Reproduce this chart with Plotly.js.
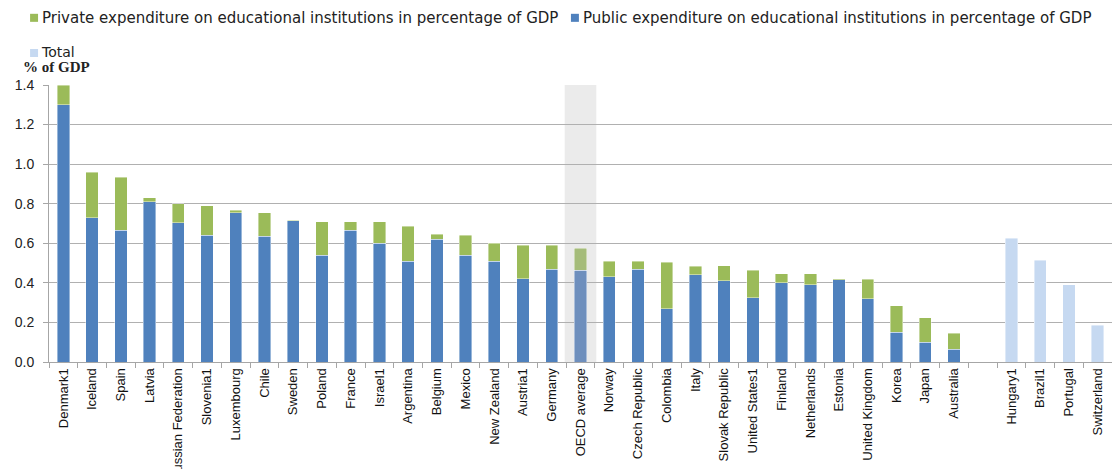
<!DOCTYPE html>
<html><head><meta charset="utf-8">
<script src="https://cdn.plot.ly/plotly-3.0.1.min.js"></script>
<style>html,body{margin:0;padding:0;background:#fff;} #chart{width:1112px;height:469px;}</style>
</head><body><div id="chart"></div>
<script>
const categories = ["Denmark1","Iceland","Spain","Latvia","Russian Federation","Slovenia1","Luxembourg","Chile","Sweden","Poland","France","Israel1","Argentina","Belgium","Mexico","New Zealand","Austria1","Germany","OECD average","Norway","Czech Republic","Colombia","Italy","Slovak Republic","United States1","Finland","Netherlands","Estonia","United Kingdom","Korea","Japan","Australia"," ","Hungary1","Brazil1","Portugal","Switzerland"];
const publicExp = [1.30,0.73,0.665,0.81,0.705,0.64,0.755,0.635,0.715,0.54,0.665,0.60,0.51,0.62,0.54,0.51,0.42,0.47,0.465,0.43,0.47,0.27,0.44,0.41,0.325,0.40,0.39,0.415,0.32,0.15,0.10,0.065,null,null,null,null,null];
const privateExp = [0.10,0.23,0.27,0.02,0.095,0.15,0.012,0.12,0.002,0.17,0.045,0.11,0.175,0.025,0.10,0.09,0.17,0.12,0.11,0.08,0.04,0.235,0.045,0.077,0.14,0.047,0.056,0.007,0.098,0.135,0.123,0.08,null,null,null,null,null];
const totalExp = [null,null,null,null,null,null,null,null,null,null,null,null,null,null,null,null,null,null,null,null,null,null,null,null,null,null,null,null,null,null,null,null,null,0.625,0.515,0.39,0.185];
const yTicks = [0,0.2,0.4,0.6,0.8,1.0,1.2,1.4];
const highlight = "OECD average";

const pubColors = categories.map(c => c === highlight ? "#6E8FBD" : "#4F81BD");
const priColors = categories.map(c => c === highlight ? "#A5BC7A" : "#9BBB59");
const hIdx = categories.indexOf(highlight);
const font = "Arial, 'Liberation Sans', sans-serif";
const legFont = "'DejaVu Sans', Arial, sans-serif";

const traces = [
  {type:"bar", name:"Public expenditure on educational institutions in percentage of GDP", x:categories, y:publicExp,
   marker:{color:pubColors, line:{width:0.6,color:"rgba(255,255,255,0.7)"}}},
  {type:"bar", name:"Private expenditure on educational institutions in percentage of GDP", x:categories, y:privateExp,
   marker:{color:priColors, line:{width:0.6,color:"rgba(255,255,255,0.7)"}}},
  {type:"bar", name:"Total", x:categories, y:totalExp,
   marker:{color:"#C6D9F1", line:{width:0.6,color:"rgba(255,255,255,0.7)"}}}
];

const layout = {
  width:1112, height:469,
  margin:{l:49, r:0, t:85, b:107},
  barmode:"stack", bargap:0.57,
  showlegend:false,
  paper_bgcolor:"#fff", plot_bgcolor:"rgba(0,0,0,0)",
  font:{family:font, color:"#1a1a1a"},
  xaxis:{type:"category", categoryorder:"array", categoryarray:categories,
    tickangle:-90, tickfont:{size:13, family:font, color:"#111"},
    ticks:"outside", tickson:"boundaries", ticklen:5, tickcolor:"#A6A6A6",
    showline:true, linecolor:"#A6A6A6", linewidth:1, showgrid:false, fixedrange:true},
  yaxis:{range:[0,1.4], tickvals:yTicks, ticktext:yTicks.map(v=>v.toFixed(1)),
    tickfont:{size:14, family:font, color:"#222"}, ticklabelstandoff:6,
    ticks:"outside", ticklen:5, tickcolor:"#A6A6A6",
    showline:true, linecolor:"#A6A6A6", linewidth:1,
    showgrid:true, gridcolor:"#B0B0B0", gridwidth:1, zeroline:false, fixedrange:true},
  shapes:[
    {type:"rect", xref:"x", yref:"paper", x0:hIdx-0.55, x1:hIdx+0.55, y0:0, y1:1,
     fillcolor:"#EBEBEB", line:{width:0}, layer:"below"},
    {type:"rect", xref:"paper", yref:"paper", x0:-0.0178, x1:-0.0103, y0:1.228, y1:1.257, fillcolor:"#9BBB59", line:{width:0}},
    {type:"rect", xref:"paper", yref:"paper", x0:0.491, x1:0.4985, y0:1.228, y1:1.257, fillcolor:"#4F81BD", line:{width:0}},
    {type:"rect", xref:"paper", yref:"paper", x0:-0.0178, x1:-0.0103, y0:1.101, y1:1.130, fillcolor:"#C6D9F1", line:{width:0}}
  ],
  annotations:[
    {xref:"paper", yref:"paper", x:-0.0085, y:1.242, xanchor:"left", yanchor:"middle", showarrow:false,
     text:"Private expenditure on educational institutions in percentage of GDP", font:{size:15, family:legFont, color:"#222"}},
    {xref:"paper", yref:"paper", x:0.5005, y:1.242, xanchor:"left", yanchor:"middle", showarrow:false,
     text:"Public expenditure on educational institutions in percentage of GDP", font:{size:15, family:legFont, color:"#222"}},
    {xref:"paper", yref:"paper", x:-0.0085, y:1.12, xanchor:"left", yanchor:"middle", showarrow:false, borderpad:0,
     text:"Total", font:{size:14, family:legFont, color:"#222"}},
    {xref:"paper", yref:"paper", x:-0.025, y:1.064, xanchor:"left", yanchor:"middle", showarrow:false, borderpad:0,
     text:"<b>% of GDP</b>", font:{size:15, family:"'Liberation Serif', 'Times New Roman', serif", color:"#222"}}
  ]
};
Plotly.newPlot("chart", traces, layout, {displayModeBar:false, staticPlot:true});
</script></body></html>
